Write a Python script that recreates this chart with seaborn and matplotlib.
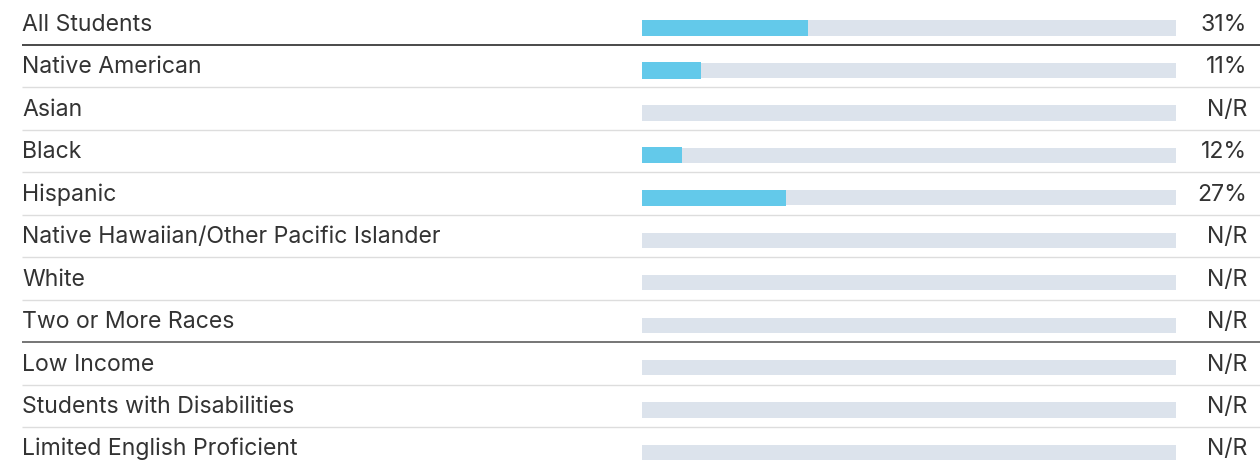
import matplotlib
matplotlib.use("Agg")
import matplotlib.pyplot as plt
import matplotlib.transforms as mtransforms
import numpy as np
import pandas as pd
import seaborn as sns

# groups, bar lengths (%) and the printed value labels
groups = ["All Students", "Native American", "Asian", "Black", "Hispanic",
          "Native Hawaiian/Other Pacific Islander", "White", "Two or More Races",
          "Low Income", "Students with Disabilities", "Limited English Proficient"]
bar_pct = [31, 11, np.nan, 7.5, 27, np.nan, np.nan, np.nan, np.nan, np.nan, np.nan]
value_labels = ["31%", "11%", "N/R", "12%", "27%", "N/R", "N/R", "N/R", "N/R", "N/R", "N/R"]
track_max = [100] * len(groups)

# rows after which a dark rule is drawn (section breaks)
dark_after = {0: "#3a3a3a", 7: "#6a6a6a"}

df = pd.DataFrame({"group": groups, "pct": bar_pct, "track": track_max})

sns.set_theme(style="white")
plt.rcParams["font.family"] = ["Inter", "DejaVu Sans"]

W, H = 1260, 461
fig = plt.figure(figsize=(W / 100, H / 100), dpi=100)
ax = fig.add_axes([642 / W, 0, (1176 - 642) / W, 1])

sns.barplot(data=df, y="group", x="track", color="#dce3ec", width=0.36,
            saturation=1, linewidth=0, ax=ax, orient="h")
sns.barplot(data=df, y="group", x="pct", color="#63c9ea", width=0.38,
            saturation=1, linewidth=0, ax=ax, orient="h")

row_px = 42.45
top_px = 28
ax.set_xlim(0, 100)
ax.set_ylim((H - top_px) / row_px, -top_px / row_px)
ax.axis("off")

trans = mtransforms.blended_transform_factory(fig.transFigure, ax.transData)
txt_color = "#333333"
fs = 16.6
for i, (g, lab) in enumerate(zip(groups, value_labels)):
    ax.text(22 / W, i + 0.07, g, transform=trans, ha="left", va="baseline",
            fontsize=fs, color=txt_color)
    ax.text(1247 / W, i + 0.07, lab, transform=trans, ha="right", va="baseline",
            fontsize=fs, color=txt_color)
    if i < len(groups) - 1:
        col = dark_after.get(i, "#dddddd")
        lw = 1.3 if i in dark_after else 1.0
        ax.plot([22 / W, 1], [i + 0.4, i + 0.4], transform=trans, color=col,
                lw=lw, clip_on=False, solid_capstyle="butt")

fig.savefig("out.png", dpi=100)
